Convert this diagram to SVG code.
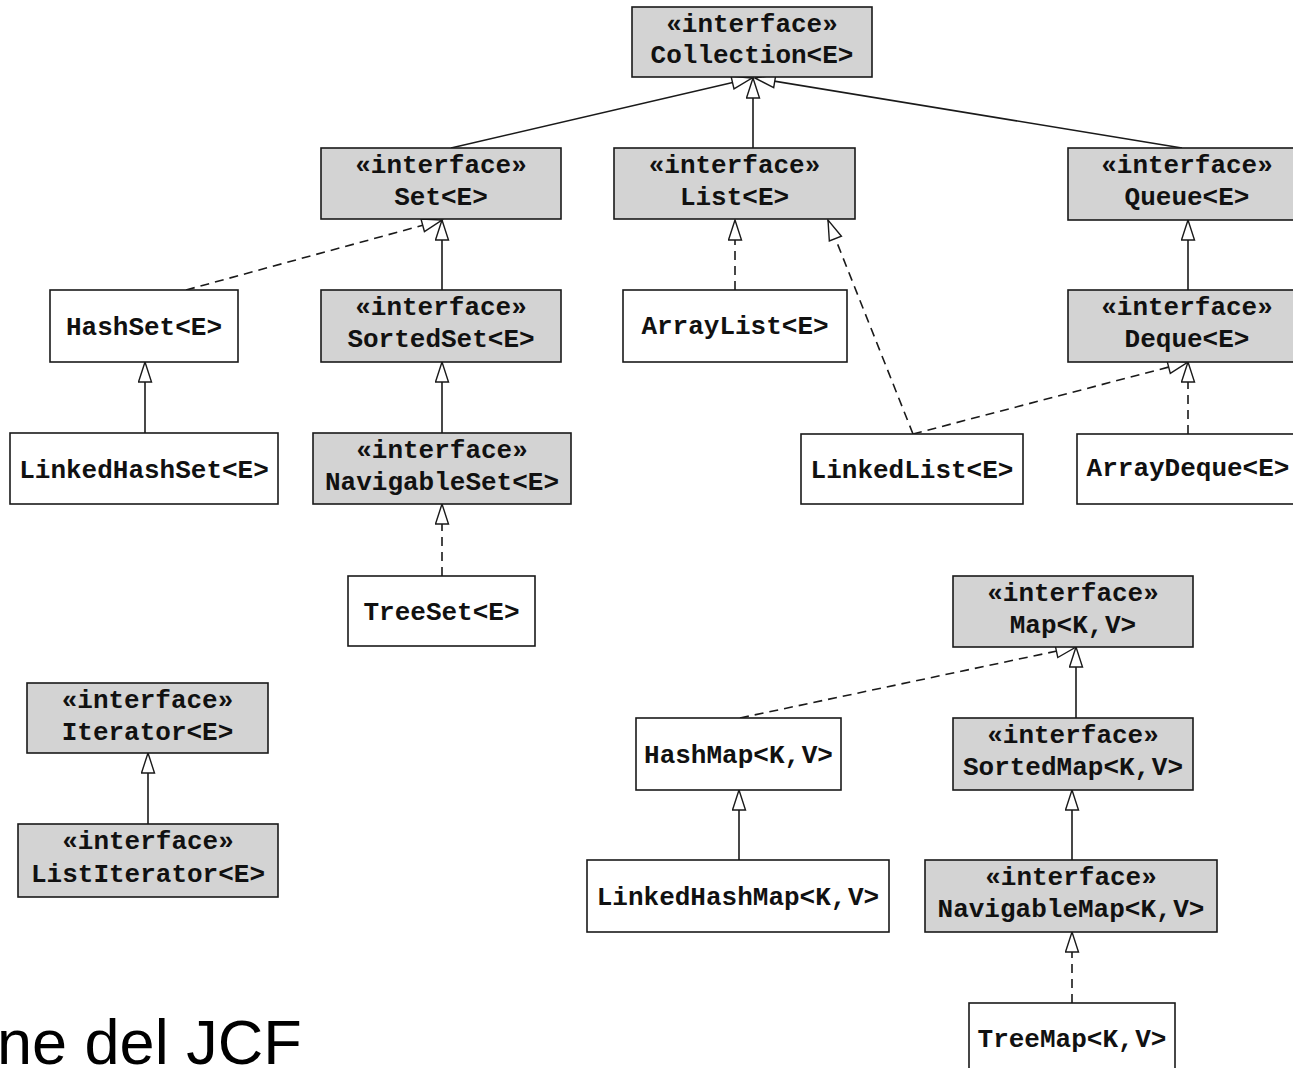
<svg xmlns="http://www.w3.org/2000/svg" width="1293" height="1068" viewBox="0 0 1293 1068">
<style>
.box{stroke:#1a1a1a;stroke-width:1.6}
.iface{fill:#d3d3d3}
.cls{fill:#ffffff}
.t{font-family:"Liberation Mono","DejaVu Sans Mono",monospace;font-weight:bold;font-size:26px;fill:#111;text-anchor:middle}
.cs{letter-spacing:-7px}
.c{stroke:#1a1a1a;stroke-width:1.6;fill:none;marker-end:url(#tri)}
.d{stroke-dasharray:9 6}
</style>
<defs>
<marker id="tri" markerUnits="userSpaceOnUse" markerWidth="24" markerHeight="16" viewBox="-1 -1 23 16" refX="20" refY="6.5" orient="auto">
<path d="M0,0 L20,6.5 L0,13 Z" fill="#fff" stroke="#1a1a1a" stroke-width="1.4" stroke-dasharray="none"/>
</marker>
</defs>
<rect width="1293" height="1068" fill="#fff"/>

<g id="connectors">
<line class="c" x1="451" y1="148" x2="752" y2="78"/>
<line class="c" x1="753" y1="148" x2="753" y2="78"/>
<line class="c" x1="1182" y1="148" x2="755" y2="78"/>
<line class="c d" x1="186" y1="290" x2="442" y2="220"/>
<line class="c" x1="442" y1="290" x2="442" y2="220"/>
<line class="c d" x1="735" y1="290" x2="735" y2="220"/>
<line class="c d" x1="913" y1="434" x2="828" y2="220"/>
<line class="c d" x1="913" y1="434" x2="1188" y2="362"/>
<line class="c" x1="1188" y1="290" x2="1188" y2="220"/>
<line class="c d" x1="1188" y1="434" x2="1188" y2="362"/>
<line class="c" x1="145" y1="433" x2="145" y2="362"/>
<line class="c" x1="442" y1="433" x2="442" y2="362"/>
<line class="c d" x1="442" y1="576" x2="442" y2="504"/>
<line class="c d" x1="740" y1="718" x2="1076" y2="647"/>
<line class="c" x1="1076" y1="726" x2="1076" y2="647"/>
<line class="c" x1="739" y1="860" x2="739" y2="790"/>
<line class="c" x1="1072" y1="860" x2="1072" y2="790"/>
<line class="c d" x1="1072" y1="1003" x2="1072" y2="932"/>
<line class="c" x1="148" y1="824" x2="148" y2="753"/>
</g>

<g id="Collection"><rect class="box iface" x="632" y="7" width="240" height="70"/><text class="t" x="752" y="32">«interface»</text><text class="t" x="752" y="63">Collection&lt;E&gt;</text></g>
<g id="Set"><rect class="box iface" x="321" y="148" width="240" height="71"/><text class="t" x="441" y="173">«interface»</text><text class="t" x="441" y="205">Set&lt;E&gt;</text></g>
<g id="List"><rect class="box iface" x="614" y="148" width="241" height="71"/><text class="t" x="734.5" y="173">«interface»</text><text class="t" x="734.5" y="205">List&lt;E&gt;</text></g>
<g id="Queue"><rect class="box iface" x="1068" y="148" width="238" height="72"/><text class="t" x="1187" y="173">«interface»</text><text class="t" x="1187" y="205">Queue&lt;E&gt;</text></g>
<g id="HashSet"><rect class="box cls" x="50" y="290" width="188" height="72"/><text class="t" x="144" y="335">HashSet&lt;E&gt;</text></g>
<g id="SortedSet"><rect class="box iface" x="321" y="290" width="240" height="72"/><text class="t" x="441" y="315">«interface»</text><text class="t" x="441" y="347">SortedSet&lt;E&gt;</text></g>
<g id="ArrayList"><rect class="box cls" x="623" y="290" width="224" height="72"/><text class="t" x="735" y="334">ArrayList&lt;E&gt;</text></g>
<g id="Deque"><rect class="box iface" x="1068" y="290" width="238" height="72"/><text class="t" x="1187" y="315">«interface»</text><text class="t" x="1187" y="347">Deque&lt;E&gt;</text></g>
<g id="LinkedHashSet"><rect class="box cls" x="10" y="433" width="268" height="71"/><text class="t" x="144" y="478">LinkedHashSet&lt;E&gt;</text></g>
<g id="NavigableSet"><rect class="box iface" x="313" y="433" width="258" height="71"/><text class="t" x="442" y="458">«interface»</text><text class="t" x="442" y="490">NavigableSet&lt;E&gt;</text></g>
<g id="LinkedList"><rect class="box cls" x="801" y="434" width="222" height="70"/><text class="t" x="912" y="478">LinkedList&lt;E&gt;</text></g>
<g id="ArrayDeque"><rect class="box cls" x="1077" y="434" width="222" height="70"/><text class="t" x="1188" y="476">ArrayDeque&lt;E&gt;</text></g>
<g id="TreeSet"><rect class="box cls" x="348" y="576" width="187" height="70"/><text class="t" x="441.5" y="620">TreeSet&lt;E&gt;</text></g>
<g id="Map"><rect class="box iface" x="953" y="576" width="240" height="71"/><text class="t" x="1073" y="601">«interface»</text><text class="t" x="1073" y="633">Map&lt;K<tspan class="cs">, </tspan>V&gt;</text></g>
<g id="Iterator"><rect class="box iface" x="27" y="683" width="241" height="70"/><text class="t" x="147.5" y="708">«interface»</text><text class="t" x="147.5" y="740">Iterator&lt;E&gt;</text></g>
<g id="HashMap"><rect class="box cls" x="636" y="718" width="205" height="72"/><text class="t" x="738.5" y="763">HashMap&lt;K<tspan class="cs">, </tspan>V&gt;</text></g>
<g id="SortedMap"><rect class="box iface" x="953" y="718" width="240" height="72"/><text class="t" x="1073" y="743">«interface»</text><text class="t" x="1073" y="775">SortedMap&lt;K<tspan class="cs">, </tspan>V&gt;</text></g>
<g id="ListIterator"><rect class="box iface" x="18" y="824" width="260" height="73"/><text class="t" x="148" y="849">«interface»</text><text class="t" x="148" y="882">ListIterator&lt;E&gt;</text></g>
<g id="LinkedHashMap"><rect class="box cls" x="587" y="860" width="302" height="72"/><text class="t" x="738" y="905">LinkedHashMap&lt;K<tspan class="cs">, </tspan>V&gt;</text></g>
<g id="NavigableMap"><rect class="box iface" x="925" y="860" width="292" height="72"/><text class="t" x="1071" y="885">«interface»</text><text class="t" x="1071" y="917">NavigableMap&lt;K<tspan class="cs">, </tspan>V&gt;</text></g>
<g id="TreeMap"><rect class="box cls" x="969" y="1003" width="206" height="80"/><text class="t" x="1072" y="1047">TreeMap&lt;K<tspan class="cs">, </tspan>V&gt;</text></g>

<text x="-3" y="1064" style="font-family:'Liberation Sans',Arial,sans-serif;font-size:63px;fill:#000">ne del JCF</text>
</svg>
